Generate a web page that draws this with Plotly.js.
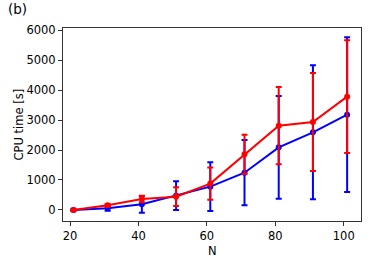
<!DOCTYPE html>
<html>
<head>
<meta charset="utf-8">
<script src="https://cdn.plot.ly/plotly-3.0.1.min.js"></script>
<style>html,body{margin:0;padding:0;background:#fff;}#chart{width:374px;height:267px;}</style>
</head>
<body>
<div id="chart"></div>
<script>
const N = [21, 31, 41, 51, 61, 71, 81, 91, 101];
const redMean = [0, 155, 367, 445, 880, 1856, 2811, 2933, 3778];
const redErr = [15, 45, 110, 315, 535, 656, 1290, 1633, 1878];
const blueMean = [0, 55, 189, 478, 778, 1244, 2089, 2589, 3178];
const blueErr = [15, 80, 280, 480, 810, 1090, 1711, 2233, 2580];
const xTicks = [20, 40, 60, 80, 100];
const yTicks = [0, 1000, 2000, 3000, 4000, 5000, 6000];

const font = {family: 'DejaVu Sans', size: 11.5, color: '#000'};

const traces = [
  {
    x: N, y: blueMean, type: 'scatter', mode: 'lines+markers',
    line: {color: '#0000ff', width: 2},
    marker: {color: '#0000ff', size: 6},
    error_y: {type: 'data', array: blueErr, visible: true, color: '#0000ff', thickness: 2, width: 3},
    showlegend: false
  },
  {
    x: N, y: redMean, type: 'scatter', mode: 'lines+markers',
    line: {color: '#ff0000', width: 2},
    marker: {color: '#ff0000', size: 6},
    error_y: {type: 'data', array: redErr, visible: true, color: '#ff0000', thickness: 2, width: 3},
    showlegend: false
  }
];

const layout = {
  width: 374, height: 267,
  margin: {l: 63, r: 13, t: 28, b: 46},
  paper_bgcolor: '#fff', plot_bgcolor: '#fff',
  font: font,
  xaxis: {
    range: [17.95, 105.05], tickvals: xTicks, ticktext: xTicks.map(String),
    showgrid: false, zeroline: false, showline: true, linecolor: '#333', linewidth: 1, mirror: true,
    ticks: 'outside', ticklen: 4, tickcolor: '#333', tickfont: font
  },
  yaxis: {
    range: [-367, 6067], tickvals: yTicks, ticktext: yTicks.map(String),
    showgrid: false, zeroline: false, showline: true, linecolor: '#333', linewidth: 1, mirror: true,
    ticks: 'outside', ticklen: 4, tickcolor: '#333', tickfont: font
  },
  annotations: [
    {
      text: '(b)', xref: 'paper', yref: 'paper', x: -0.19, y: 1.1,
      xanchor: 'left', yanchor: 'middle', showarrow: false,
      font: {family: 'DejaVu Sans', size: 13.5, color: '#000'}
    },
    {
      text: 'CPU time [s]', xref: 'paper', yref: 'paper', x: -0.151, y: 0.5,
      xanchor: 'center', yanchor: 'middle', textangle: -90, showarrow: false, font: font
    },
    {
      text: 'N', xref: 'paper', yref: 'paper', x: 0.5, y: -0.155,
      xanchor: 'center', yanchor: 'middle', showarrow: false, font: font
    }
  ]
};

Plotly.newPlot('chart', traces, layout, {displayModeBar: false, staticPlot: true});
</script>
</body>
</html>
